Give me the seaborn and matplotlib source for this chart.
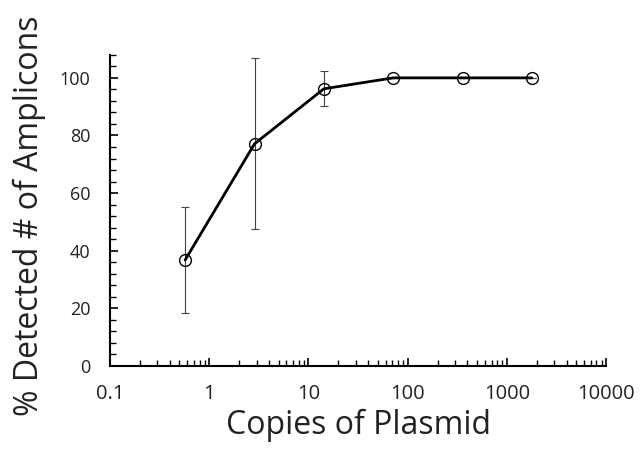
import numpy as np
import pandas as pd
import matplotlib
matplotlib.use("Agg")
import matplotlib.pyplot as plt
from matplotlib.ticker import FixedLocator, MultipleLocator, LogLocator, NullFormatter
import seaborn as sns

copies = [0.571, 2.857, 14.29, 71.43, 357.1, 1786.0]
detected = [36.8, 77.1, 96.2, 100.0, 100.0, 100.0]
errors = [18.3, 29.7, 6.1, 0.0, 0.0, 0.0]
xtick_labels = ["0.1", "1", "10", "100", "1000", "10000"]
ytick_values = [0, 20, 40, 60, 80, 100]

sns.set_style("white")
plt.rcParams['font.family'] = ['Open Sans', 'DejaVu Sans']

fig = plt.figure(figsize=(6.4, 4.53), dpi=100)
ax = fig.add_axes([0.172, 0.192, 0.775, 0.687])

df = pd.DataFrame({"copies": copies, "detected": detected})
ax.errorbar(copies, detected, yerr=errors, fmt='none', ecolor='#444444',
            elinewidth=0.8, capsize=2.6, capthick=0.8, zorder=1)
sns.lineplot(data=df, x="copies", y="detected", ax=ax, color='black',
             linewidth=2.0, marker='o', markersize=8.5, markerfacecolor='none',
             markeredgecolor='black', markeredgewidth=1.0, zorder=3)

ax.set_xscale('log')
ax.set_xlim(0.1, 10000)
ax.set_ylim(0, 108)

ax.xaxis.set_major_locator(FixedLocator([0.1, 1, 10, 100, 1000, 10000]))
ax.set_xticklabels(xtick_labels)
ax.xaxis.set_minor_locator(LogLocator(base=10, subs=np.arange(2, 10)))
ax.xaxis.set_minor_formatter(NullFormatter())
ax.set_yticks(ytick_values)
ax.yaxis.set_minor_locator(MultipleLocator(4))

for s in ['top', 'right']:
    ax.spines[s].set_visible(False)
for s in ['left', 'bottom']:
    ax.spines[s].set_color('black')
    ax.spines[s].set_linewidth(1.5)

ax.tick_params(axis='x', which='both', bottom=True, top=False)
ax.tick_params(axis='y', which='both', left=True, right=False)
ax.tick_params(axis='both', which='major', direction='in', length=6, width=1.2,
               colors='black', labelcolor='#222222')
ax.tick_params(axis='both', which='minor', direction='in', length=4, width=1.0,
               colors='black')
ax.tick_params(axis='x', which='major', pad=13, labelsize=14.5)
ax.tick_params(axis='y', which='major', pad=14, labelsize=13)

ax.set_xlabel("Copies of Plasmid", fontsize=23, color='#222222')
ax.set_ylabel("% Detected # of Amplicons", fontsize=23, color='#222222')
ax.xaxis.set_label_coords(0.5, -0.137)
ax.yaxis.set_label_coords(-0.129, 0.482)

fig.savefig("out.png", dpi=100, facecolor='white')
